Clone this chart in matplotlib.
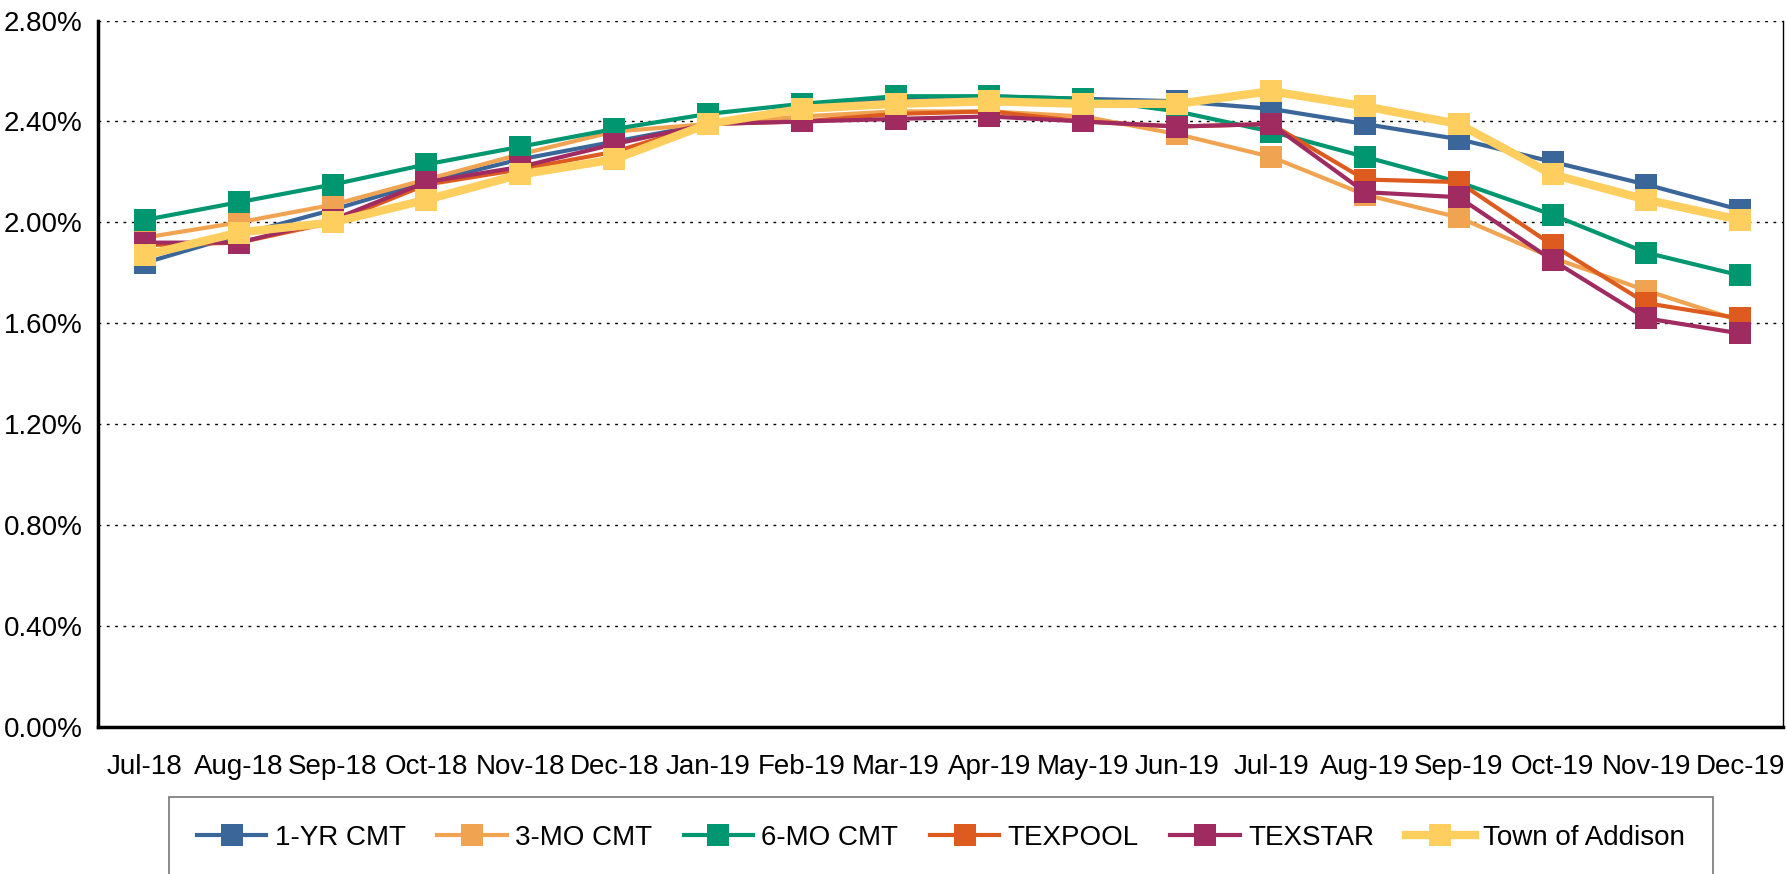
import numpy as np
import matplotlib
matplotlib.use("Agg")
import matplotlib.pyplot as plt
from matplotlib.ticker import FuncFormatter, MultipleLocator

plt.rcParams['font.family'] = ['Liberation Sans Narrow', 'Liberation Sans', 'DejaVu Sans']

months = ['Jul-18', 'Aug-18', 'Sep-18', 'Oct-18', 'Nov-18', 'Dec-18',
          'Jan-19', 'Feb-19', 'Mar-19', 'Apr-19', 'May-19', 'Jun-19',
          'Jul-19', 'Aug-19', 'Sep-19', 'Oct-19', 'Nov-19', 'Dec-19']

yr1_cmt = [1.84, 1.95, 2.05, 2.16, 2.25, 2.32, 2.39, 2.46, 2.49, 2.50, 2.49, 2.48,
           2.45, 2.39, 2.33, 2.24, 2.15, 2.05]
mo3_cmt = [1.94, 2.00, 2.07, 2.17, 2.27, 2.36, 2.39, 2.42, 2.44, 2.44, 2.42, 2.35,
           2.26, 2.11, 2.02, 1.86, 1.73, 1.61]
mo6_cmt = [2.01, 2.08, 2.15, 2.23, 2.30, 2.37, 2.43, 2.47, 2.50, 2.50, 2.49, 2.44,
           2.36, 2.26, 2.16, 2.03, 1.88, 1.79]
texpool = [1.91, 1.92, 2.00, 2.15, 2.21, 2.28, 2.39, 2.40, 2.43, 2.44, 2.40, 2.38,
           2.39, 2.17, 2.16, 1.91, 1.68, 1.62]
texstar = [1.92, 1.92, 2.01, 2.16, 2.22, 2.31, 2.39, 2.40, 2.41, 2.42, 2.40, 2.38,
           2.39, 2.12, 2.10, 1.85, 1.62, 1.56]
addison = [1.87, 1.96, 2.00, 2.09, 2.19, 2.25, 2.39, 2.45, 2.47, 2.48, 2.47, 2.47,
           2.52, 2.46, 2.39, 2.19, 2.09, 2.01]

series = [
    ('1-YR CMT', yr1_cmt, '#3A6699', 3.0),
    ('3-MO CMT', mo3_cmt, '#F0A452', 3.0),
    ('6-MO CMT', mo6_cmt, '#009670', 3.0),
    ('TEXPOOL', texpool, '#DE5B1F', 3.0),
    ('TEXSTAR', texstar, '#A02B60', 3.0),
    ('Town of Addison', addison, '#FECE5F', 6.0),
]

fig = plt.figure(figsize=(17.87, 8.74), dpi=100)
ax = fig.add_axes([0.0548, 0.168, 0.9432, 0.8085])

x = np.arange(len(months))
for name, vals, col, lw in series:
    ax.plot(x, vals, color=col, lw=lw, marker='s', markersize=15.5,
            markeredgewidth=0, label=name, solid_joinstyle='miter')

ax.set_xlim(-0.5, 17.46)
ax.set_ylim(0, 2.8)
ax.yaxis.set_major_locator(MultipleLocator(0.4))
ax.yaxis.set_major_formatter(FuncFormatter(lambda v, p: '%.2f%%' % v))
ax.set_xticks(x)
ax.set_xticklabels(months)
ax.tick_params(axis='both', length=0, labelsize=20)
ax.tick_params(axis='x', pad=19)
ax.tick_params(axis='y', pad=11)
ax.grid(axis='y', color='black', linestyle=(0, (2, 4)), linewidth=1.0)
ax.set_axisbelow(True)

ax.spines['left'].set_linewidth(2.5)
ax.spines['bottom'].set_linewidth(2.5)
ax.spines['right'].set_linewidth(1.0)
ax.spines['top'].set_visible(False)

top = 1 - 797 / 874
leg = fig.legend(loc='upper left', bbox_to_anchor=(169 / 1787, top - 0.2, (1713 - 169) / 1787, 0.2),
                 mode='expand', ncol=6, fontsize=20, frameon=True, fancybox=False,
                 handlelength=2.5, handletextpad=0.3, borderpad=1.0, borderaxespad=0)
leg.get_frame().set_edgecolor('#555555')
leg.get_frame().set_linewidth(1.2)

plt.savefig('out.png', dpi=100)
